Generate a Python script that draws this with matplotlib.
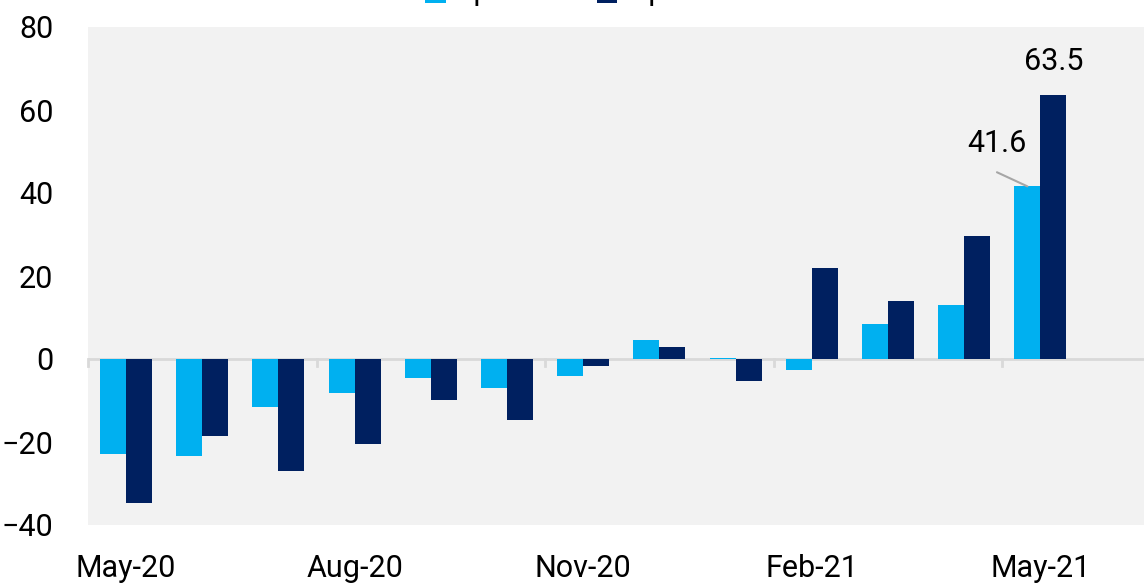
import matplotlib.pyplot as plt
import numpy as np

plt.rcParams['font.family'] = ['Roboto', 'DejaVu Sans']

months = ['May-20', 'Jun-20', 'Jul-20', 'Aug-20', 'Sep-20', 'Oct-20', 'Nov-20',
          'Dec-20', 'Jan-21', 'Feb-21', 'Mar-21', 'Apr-21', 'May-21']
exports = [-22.8, -23.3, -11.5, -8.2, -4.6, -7.0, -4.1, 4.5, 0.3, -2.7, 8.4, 13.0, 41.6]
imports = [-34.6, -18.5, -26.9, -20.4, -9.9, -14.7, -1.6, 2.9, -5.3, 21.9, 13.9, 29.6, 63.5]
series_names = ['Exports', 'Imports']

light = '#00b0f0'
dark = '#002060'
fs = 22

fig = plt.figure(figsize=(11.44, 5.85), dpi=100)
ax = fig.add_axes([88 / 1144, 60 / 585, 1 - 88 / 1144, 498 / 585])
ax.set_facecolor('#f2f2f2')

x = np.arange(len(months))
w = 0.341
b1 = ax.bar(x - w / 2, exports, w, color=light, label=series_names[0], zorder=3)
b2 = ax.bar(x + w / 2, imports, w, color=dark, label=series_names[1], zorder=3)

ax.set_xlim(-0.5, 13.36)
ax.set_ylim(-40, 80)
ax.set_yticks(range(-40, 81, 20))
ax.tick_params(axis='y', length=0, labelsize=fs, pad=25)

# zero line with category ticks every three months
ax.axhline(0, color='#d9d9d9', lw=2, zorder=2)
for t in np.arange(-0.5, len(months), 3):
    ax.plot([t, t], [0, -1.8], color='#d9d9d9', lw=2, zorder=2, clip_on=False)

ax.set_xticks(x[::3])
ax.set_xticklabels(months[::3])
ax.tick_params(axis='x', length=0, labelsize=fs, pad=21)

for s in ax.spines.values():
    s.set_visible(False)

# data labels
ax.annotate(f'{imports[-1]}', (x[-1] + w / 2, imports[-1]), xytext=(0, 14),
            textcoords='offset points', ha='center', va='bottom', fontsize=fs)
ax.annotate('', (x[-1] - w / 2, exports[-1]),
            xytext=(x[-1] - 0.57, exports[-1] + 3.4), textcoords='data',
            arrowprops=dict(arrowstyle='-', color='#a6a6a6', lw=1.5,
                            shrinkA=0, shrinkB=0))
ax.text(x[-1] - 0.57, exports[-1] + 10.3, f'{exports[-1]}', ha='center',
        va='center', fontsize=fs)

# legend sits above the figure edge, only its lower rim shows
fig.legend(handles=[b1, b2], labels=series_names, loc='lower center',
           bbox_to_anchor=(0.500, 1 - 6 / 585), ncol=2, frameon=False,
           fontsize=fs, handlelength=0.68, handleheight=1.0,
           handletextpad=-0.14, columnspacing=1.71, borderaxespad=0,
           borderpad=0)

fig.savefig('out.png', dpi=100)
